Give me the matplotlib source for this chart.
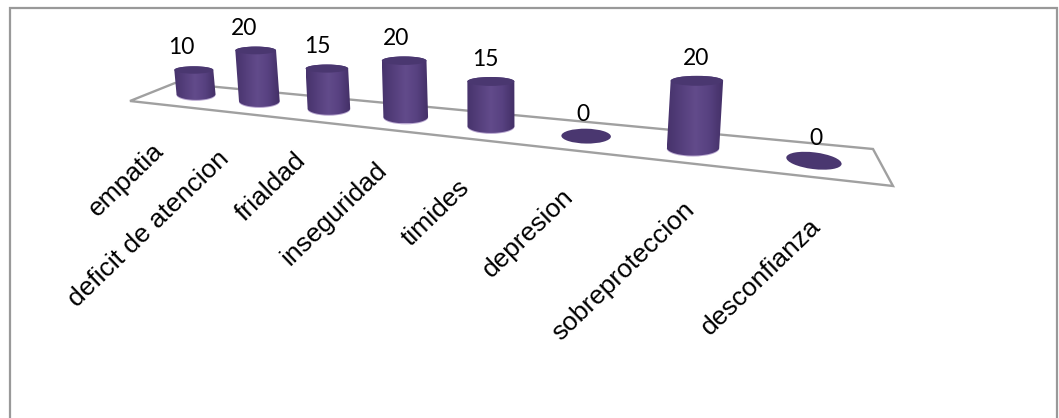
import numpy as np
import matplotlib
matplotlib.use("Agg")
import matplotlib.pyplot as plt
from matplotlib.colors import LinearSegmentedColormap
from matplotlib.patches import Ellipse, PathPatch, Polygon
from matplotlib.path import Path

# chart values
categories = ["empatia", "deficit de atencion", "frialdad", "inseguridad",
              "timides", "depresion", "sobreproteccion", "desconfianza"]
values = [10, 20, 15, 20, 15, 0, 20, 0]

# where each rotated label ends, relative to its bar's base
label_dx = [-36, -34, -27, -23, -25, -16, -2, 3]
label_dy = [53, 54, 48, 50, 58, 57, 58, 62]

W, H = 1059, 418
DARK = "#4a3770"
cyl_cmap = LinearSegmentedColormap.from_list(
    "cyl", ["#47336c", "#553f7c", "#624b8b", "#574180", "#432f66"])


def floor_point(i):
    # perspective along the floor, spacing grows toward the viewer
    x = (196 + 51.65 * i) / (1 - 0.045 * i)
    y = 94 + (x - 196) * 0.108
    return x, y


def bar_radius(x):
    return 19.5 + (x - 196) * 0.0135


def unit_scale(x):
    return 2.4 + (x - 196) * 0.0019


def half_arc(cx, cy, rx, ry, start, stop):
    t = np.linspace(start, stop, 40)
    return np.column_stack([cx + rx * np.cos(t), cy + ry * np.sin(t)])


def draw_cylinder(ax, x, y, value):
    r = bar_radius(x)
    tilt = (x - 500) * 0.0003 * unit_scale(x) * value
    ry_low, ry_top = r * 0.30, r * 0.19
    slant = 7 * ((x - 450) / 364) ** 2 if x > 450 else 0

    if value == 0:
        ax.add_patch(Ellipse((x, y), 2 * r, 2 * ry_low, angle=slant,
                             color=DARK, lw=0, zorder=3))
        return x, y

    top_x, top_y = x + tilt, y - unit_scale(x) * value
    # body outline: top edge left to right, then lower arc back
    top = half_arc(top_x, top_y, r, ry_top, np.pi, 2 * np.pi)
    low = half_arc(x, y, r, ry_low, 0, np.pi)
    pts = np.vstack([top, low, top[:1]])
    codes = [Path.MOVETO] + [Path.LINETO] * (len(pts) - 2) + [Path.CLOSEPOLY]
    body = PathPatch(Path(pts, codes), facecolor="none", edgecolor="none",
                     transform=ax.transData)
    ax.add_patch(body)
    # soft lavender rim under the base
    ax.add_patch(Ellipse((x, y + 1), 2 * r, 2 * ry_low, color="#b7a6cf",
                         lw=0, zorder=2.5))
    img = ax.imshow(np.linspace(0, 1, 64).reshape(1, -1), cmap=cyl_cmap,
                    extent=[min(x, top_x) - r, max(x, top_x) + r,
                            y + ry_low, top_y - ry_top],
                    aspect="auto", zorder=3, interpolation="bilinear")
    img.set_clip_path(body)
    ax.add_patch(Ellipse((top_x, top_y), 2 * r, 2 * ry_top, color=DARK,
                         lw=0, zorder=3.1))
    return top_x, top_y


fig = plt.figure(figsize=(W / 100, H / 100), dpi=100)
ax = fig.add_axes([0, 0, 1, 1])
ax.set_xlim(0, W)
ax.set_ylim(H, 0)
ax.axis("off")

# chart frame, bottom edge is cropped in the original
ax.plot([9.5, 9.5, 1057, 1057], [H, 8, 8, H], color="#999999", lw=1.6,
        solid_joinstyle="miter", zorder=1)

# floor of the 3d plot
floor = [(130, 101), (175, 83), (873, 149), (893, 186)]
ax.add_patch(Polygon(floor, closed=True, fill=False, edgecolor="#a0a0a0",
                     lw=1.7, zorder=2))

for i, (name, val) in enumerate(zip(categories, values)):
    bx, by = floor_point(i)
    tx, ty = draw_cylinder(ax, bx, by, val)
    ax.text(tx - 13 + 0.024 * (bx - 196), ty - 22, str(val), ha="center",
            va="center", fontsize=16.5, family="Lato", color="black", zorder=5)
    ax.text(bx + label_dx[i], by + label_dy[i], name, rotation=44,
            rotation_mode="anchor", ha="right", va="center",
            fontsize=19, family="Liberation Sans", color="black", zorder=5)

ax.set_xlim(0, W)
ax.set_ylim(H, 0)
fig.savefig("out.png", dpi=100)
